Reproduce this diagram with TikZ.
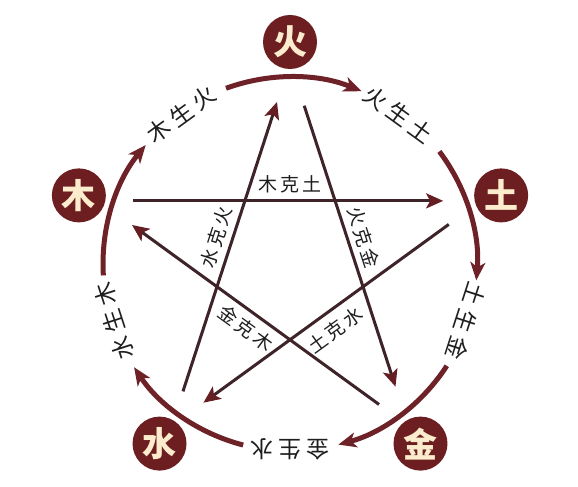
\documentclass[tikz,border=0pt]{standalone}
\usepackage{fontspec}
\setmainfont{Noto Sans CJK SC}
\usetikzlibrary{arrows.meta}
\definecolor{elemfill}{RGB}{108,30,32}
\definecolor{ringcol}{RGB}{110,34,40}
\definecolor{starcol}{RGB}{62,36,40}
\definecolor{headcol}{RGB}{100,30,36}
\definecolor{cream}{RGB}{250,236,205}
\definecolor{txtcol}{RGB}{30,30,30}
\begin{document}
\begin{tikzpicture}[x=1pt,y=1pt,
  elem/.style={circle, fill=elemfill, minimum size=54pt, inner sep=0pt, text=cream, font=\fontsize{34}{34}\selectfont\bfseries},
  ringarc/.style={draw=ringcol, line width=5pt, -{Stealth[length=18pt,width=15pt,inset=5pt]}},
  starline/.style={draw=starcol, line width=3pt, -{Stealth[length=17pt,width=15pt,inset=4pt,color=headcol]}},
  ringlab/.style={text=txtcol, font=\fontsize{23}{23}\selectfont, inner sep=0pt},
  starlab/.style={text=txtcol, font=\fontsize{19}{19}\selectfont, inner sep=0pt},
]
\useasboundingbox (0,0) rectangle (578,487);
\fill[white] (0,0) rectangle (578,487);
\coordinate (C) at (290,223);
\coordinate (S) at (290,224);
% elements
\node[elem] (huo) at ([shift={(90:222)}]C) {火};
\node[elem] (mu)  at ([shift={(162:222)}]C) {木};
\node[elem] (tu)  at ([shift={(18:222)}]C) {土};
\node[elem] (shui) at ([shift={(234:222)}]C) {水};
\node[elem] (jin) at ([shift={(306:222)}]C) {金};
% generating cycle arcs
\draw[ringarc] ([shift={(183.5:187)}]C) arc[start angle=183.5, end angle=140.5, radius=187];
\draw[ringarc] ([shift={(110:187)}]C) arc[start angle=110, end angle=67.5, radius=187];
\draw[ringarc] ([shift={(37:187)}]C) arc[start angle=37, end angle=-5, radius=187];
\draw[ringarc] ([shift={(-33:187)}]C) arc[start angle=-33, end angle=-75, radius=187];
\draw[ringarc] ([shift={(255.5:187)}]C) arc[start angle=255.5, end angle=213.5, radius=187];
% ring labels
\node[ringlab, rotate=36]  (g1) at ([shift={(126:185)}]C) {木\hspace{5pt}生\hspace{5pt}火};
\node[ringlab, rotate=-36] (g2) at ([shift={(54:185)}]C) {火\hspace{5pt}生\hspace{5pt}土};
\node[ringlab, rotate=-108] (g3) at ([shift={(-18:185)}]C) {土\hspace{5pt}生\hspace{5pt}金};
\node[ringlab, rotate=180] (g4) at ([shift={(270:185)}]C) {金\hspace{5pt}生\hspace{5pt}水};
\node[ringlab, rotate=108] (g5) at ([shift={(198:185)}]C) {水\hspace{5pt}生\hspace{5pt}木};
% star vertices
\coordinate (Vh) at ([shift={(90:201)}]S);
\coordinate (Vm) at ([shift={(162:201)}]S);
\coordinate (Vt) at ([shift={(18:201)}]S);
\coordinate (Vs) at ([shift={(234:201)}]S);
\coordinate (Vj) at ([shift={(306:201)}]S);
% controlling cycle
\draw[starline, shorten <=34pt, shorten >=38pt] (Vm) -- (Vt);
\draw[starline, shorten <=40pt, shorten >=39pt] (Vt) -- (Vs);
\draw[starline, shorten <=36pt, shorten >=42pt] (Vs) -- (Vh);
\draw[starline, shorten <=46pt, shorten >=41pt] (Vh) -- (Vj);
\draw[starline, shorten <=36pt, shorten >=41pt] (Vj) -- (Vm);
% star labels
\node[starlab] (k1) at ([shift={(90:79)}]S) {木\hspace{3pt}克\hspace{3pt}土};
\node[starlab, rotate=72] (k2) at ([shift={(161:78)}]S) {水\hspace{3pt}克\hspace{3pt}火};
\node[starlab, rotate=-72] (k3) at ([shift={(19:78)}]S) {火\hspace{3pt}克\hspace{3pt}金};
\node[starlab, rotate=-36] (k4) at ([shift={(236:79)}]S) {金\hspace{3pt}克\hspace{3pt}木};
\node[starlab, rotate=36] (k5) at ([shift={(304:81)}]S) {土\hspace{3pt}克\hspace{3pt}水};
\end{tikzpicture}
\end{document}
